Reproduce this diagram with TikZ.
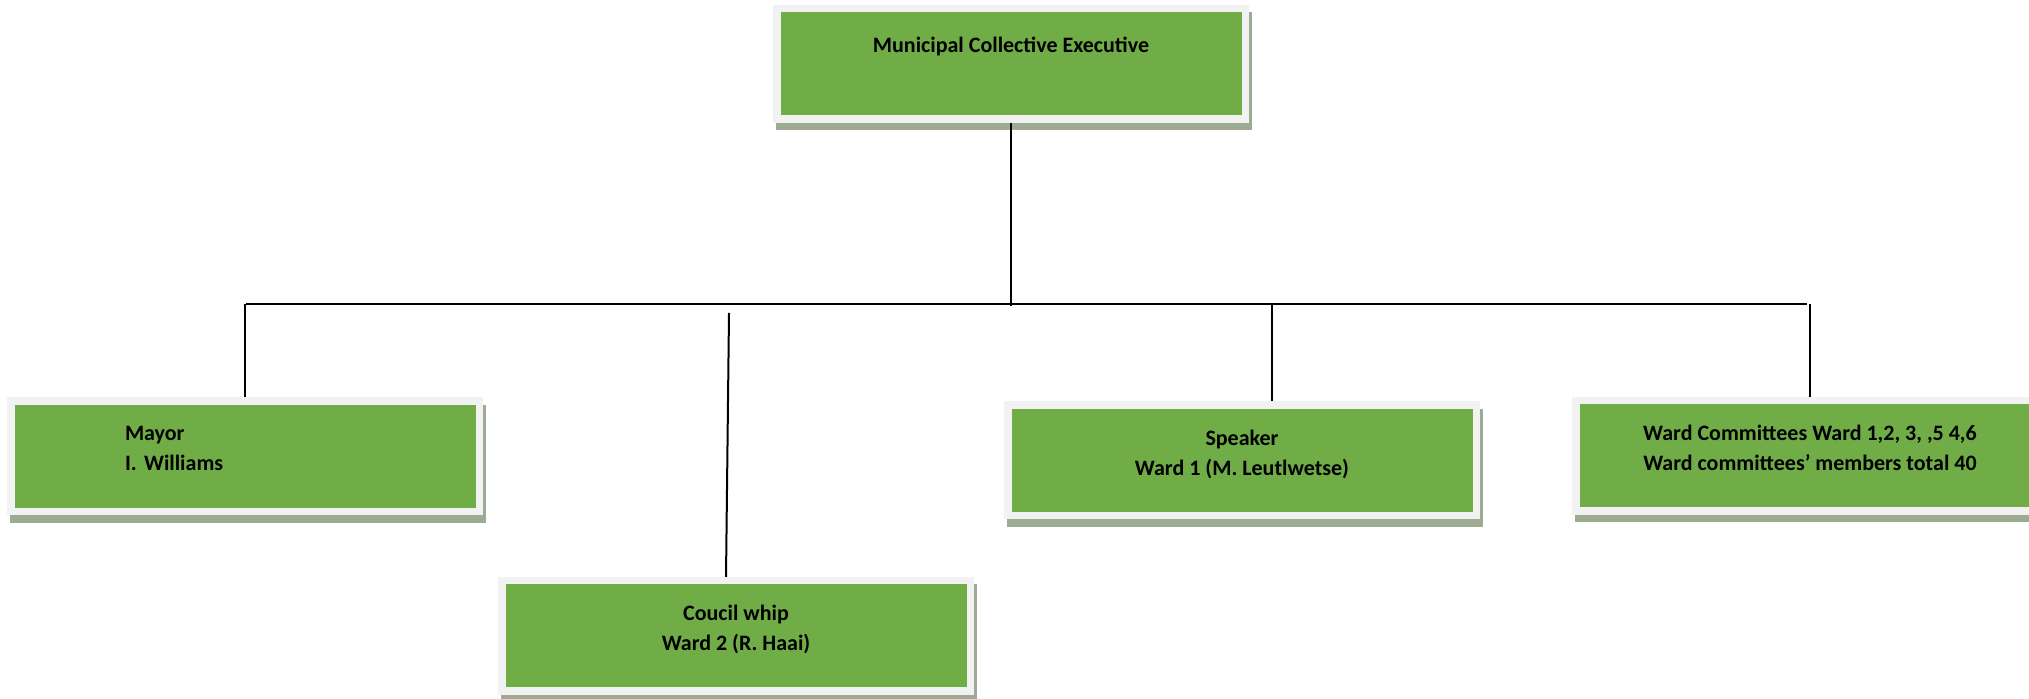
\documentclass[tikz,border=0pt]{standalone}
\usepackage{fontspec}
\setmainfont{Carlito}
\usetikzlibrary{shadows}
\definecolor{boxgreen}{HTML}{70AD47}
\definecolor{boxframe}{HTML}{F2F2F2}
\definecolor{boxshadow}{HTML}{9CAB91}
\frenchspacing

\begin{document}
\begin{tikzpicture}[x=0.5pt, y=0.5pt,
  office/.style={draw=boxframe, fill=boxgreen, line width=3.75pt,
    minimum width=234.25pt, minimum height=55.25pt, inner sep=0pt,
    font=\bfseries\fontsize{11}{15}\selectfont, align=center,
    drop shadow={shadow xshift=1.25pt, shadow yshift=-3.75pt, opacity=1,
      fill=boxshadow, draw=boxshadow, line width=3.75pt}},
  link/.style={line width=1pt, black}]
  \useasboundingbox (0,0) rectangle (2029,699);

  % Draw the boxes
  \node[office] (exec) at (1011,635) {Municipal Collective Executive\\[4pt]\mbox{}};
  \node[office, text width=120pt, align=left] (mayor) at (245,242.5) {Mayor\\I. Williams\\[-7pt]\mbox{}};
  \node[office] (whip) at (736,63) {Coucil whip\\Ward 2 (R. Haai)\\[-7pt]\mbox{}};
  \node[office] (speaker) at (1242,238.5) {Speaker\\Ward 1 (M. Leutlwetse)\\[-7pt]\mbox{}};
  \node[office] (ward) at (1810,243) {Ward Committees Ward 1,2, 3, ,5 4,6\\Ward committees’ members total 40\\[-7pt]\mbox{}};

  % Draw the lines
  \coordinate (barL) at (246,395);
  \coordinate (barR) at (1807,395);
  \coordinate (whipTop) at (729,386);
  \draw[link] (barL) -- (barR);
  \draw[link] (exec.south) -- ([yshift=-1pt]exec.south |- barL);
  \draw[link] (mayor.north) -- (mayor.north |- barL);
  \draw[link] (whipTop) -- ([xshift=-5pt]whip.north);
  \draw[link] ([xshift=15pt]speaker.north) -- ([xshift=15pt]speaker.north |- barL);
  \draw[link] (ward.north) -- (ward.north |- barL);
\end{tikzpicture}
\end{document}
